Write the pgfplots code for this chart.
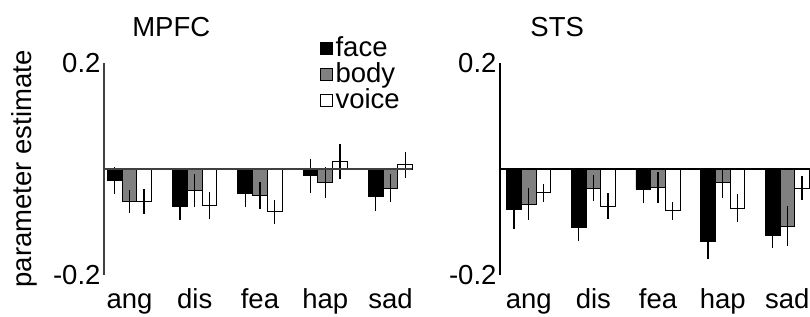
\documentclass[border=0pt]{standalone}
\usepackage{fontspec}
\setmainfont{Liberation Sans}
\usepackage{pgfplots}
\usepackage{pgfplotstable}
\pgfplotsset{compat=1.18}
\definecolor{barg}{RGB}{128,128,128}

\pgfplotstableread{
x  face   fe     body   be     voice  ve
0  -0.022 0.025  -0.061 0.022  -0.061 0.024
1  -0.071 0.025  -0.041 0.031  -0.069 0.026
2  -0.046 0.026  -0.050 0.026  -0.081 0.023
3  -0.013 0.032  -0.026 0.029   0.014 0.033
4  -0.052 0.028  -0.036 0.027   0.008 0.025
}\mpfc
\pgfplotstableread{
x  face   fe     body   be     voice  ve
0  -0.077 0.036  -0.066 0.030  -0.045 0.017
1  -0.111 0.025  -0.036 0.024  -0.070 0.024
2  -0.038 0.027  -0.035 0.029  -0.079 0.017
3  -0.137 0.033  -0.026 0.028  -0.074 0.026
4  -0.126 0.023  -0.108 0.038  -0.036 0.022
}\sts

\pgfplotsset{
  myaxis/.style={
    scale only axis,
    anchor=south west,
    height=212pt,
    ymin=-0.2, ymax=0.2,
    ybar=0pt, bar width=14.7pt,
    axis y line=left,
    axis x line=bottom,
    x axis line style={draw=none},
    y axis line style={-, line width=1.2pt, black!75},
    major tick length=0pt,
    xtick={0,1,2,3,4},
    xticklabels={ang,dis,fea,hap,sad},
    ytick={-0.2,0.2},
    yticklabels={{-0.2},{0.2}},
    font=\fontsize{27.5}{30}\selectfont,
    tick label style={font=\fontsize{27.5}{30}\selectfont},
    xticklabel style={anchor=base, yshift=-33pt},
    yticklabel style={xshift=0pt},
    clip=false,
    legend image code/.code={\draw[#1, draw=black, line width=0.8pt] (0pt,2pt) rectangle (12pt,14pt);},
  },
  bstyle/.style={draw=black, line width=0.9pt,
    error bars/y dir=both, error bars/y explicit, error bars/error mark=none,
    error bars/error bar style={line width=1.3pt, black}},
}

\begin{document}
\begin{tikzpicture}
\path[use as bounding box] (0,0) rectangle (810pt,316pt);

\begin{axis}[myaxis, at={(104pt,41pt)}, width=308pt, xmin=-0.39, xmax=4.33,
  ylabel={parameter estimate},
  ylabel style={at={(axis description cs:-0.26,0.5)}, anchor=center},
  legend style={at={(0.70,1.125)}, anchor=north west, draw=none, fill=none,
    inner sep=0pt, row sep=0pt,
    nodes={inner sep=0pt, text height=20pt, text depth=6pt, anchor=base west},
    /tikz/every odd column/.style={column sep=3pt}},
  legend cell align=left]
\addplot[bstyle, fill=black] table[x=x, y=face, y error=fe] {\mpfc};
\addplot[bstyle, fill=barg] table[x=x, y=body, y error=be] {\mpfc};
\addplot[bstyle, fill=white] table[x=x, y=voice, y error=ve] {\mpfc};
\legend{face,body,voice}
\draw[line width=1.2pt, black!75] (rel axis cs:0,0.5) -- (rel axis cs:1,0.5);
\node at (axis cs:0.64,0.2) [anchor=center, yshift=36pt] {MPFC};
\end{axis}

\begin{axis}[myaxis, at={(500pt,41pt)}, width=310pt, xmin=-0.444, xmax=4.35,
  y axis line style={-, line width=1.2pt, black}]
\addplot[bstyle, fill=black] table[x=x, y=face, y error=fe] {\sts};
\addplot[bstyle, fill=barg] table[x=x, y=body, y error=be] {\sts};
\addplot[bstyle, fill=white] table[x=x, y=voice, y error=ve] {\sts};
\draw[line width=1.2pt, black] (rel axis cs:0,0.5) -- (rel axis cs:1,0.5);
\node at (axis cs:0.44,0.2) [anchor=center, yshift=36pt] {STS};
\end{axis}
\end{tikzpicture}
\end{document}
